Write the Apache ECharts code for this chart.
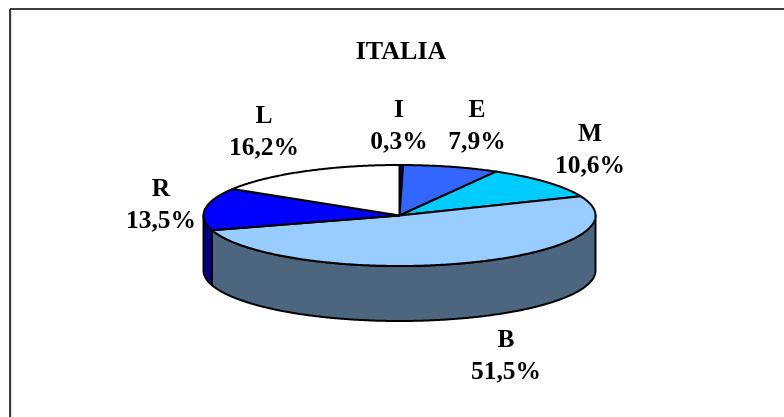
<!DOCTYPE html>
<html>
<head>
<meta charset="utf-8">
<style>html,body{margin:0;padding:0;background:#fff}#c{width:784px;height:417px}</style>
<script src="https://cdn.jsdelivr.net/npm/echarts@6/dist/echarts.min.js"></script>
</head>
<body>
<div id="c"></div>
<script>
const titleText = 'ITALIA';
const categories = ['I', 'E', 'M', 'B', 'R', 'L'];
const percentLabels = ['0,3%', '7,9%', '10,6%', '51,5%', '13,5%', '16,2%'];
const values = [0.3, 7.9, 10.6, 51.5, 13.5, 16.2];

const topColors = ['#000080', '#3366FF', '#00CCFF', '#99CCFF', '#0000FF', '#FFFFFF'];
const sideColors = ['#000040', '#1A3380', '#006680', '#4D6680', '#000080', '#808080'];

const pie = { cx: 399.5, cy: 215.5, rx: 196, ry: 50.5, depth: 55 };
const labelCenters = [[399, 126], [477, 126], [590, 150], [506, 356], [161, 205], [264, 132]];

const total = values.reduce((a, b) => a + b, 0);
function rimPoint(deg, drop) {
  const t = deg * Math.PI / 180;
  return [pie.cx + pie.rx * Math.sin(t), pie.cy - pie.ry * Math.cos(t) + drop];
}
function arc(a0, a1, drop) {
  const pts = [];
  const n = Math.max(2, Math.ceil(Math.abs(a1 - a0) * 2));
  for (let i = 0; i <= n; i++) pts.push(rimPoint(a0 + (a1 - a0) * i / n, drop));
  return pts;
}
function renderItem(params, api) {
  const i = params.dataIndex;
  let before = 0;
  for (let k = 0; k < i; k++) before += values[k];
  const a0 = before / total * 360;
  const a1 = a0 + api.value(0) / total * 360;
  const children = [];
  const lo = Math.max(a0, 90), hi = Math.min(a1, 270);
  if (hi > lo) {
    children.push({
      type: 'polygon',
      shape: { points: arc(lo, hi, 0).concat(arc(hi, lo, pie.depth)) },
      style: { fill: sideColors[i], stroke: '#000', lineWidth: 2, lineJoin: 'round' }
    });
  }
  children.push({
    type: 'polygon',
    shape: { points: [[pie.cx, pie.cy]].concat(arc(a0, a1, 0)) },
    style: { fill: topColors[i], stroke: '#000', lineWidth: 2, lineJoin: 'round' }
  });
  children.push({
    type: 'text',
    style: {
      x: labelCenters[i][0], y: labelCenters[i][1],
      text: categories[i] + '\n' + percentLabels[i],
      fill: '#000', textAlign: 'center', textVerticalAlign: 'middle',
      font: 'bold 25.5px "Liberation Serif"', lineHeight: 32
    }
  });
  return { type: 'group', children };
}

const chart = echarts.init(document.getElementById('c'), null, { renderer: 'canvas' });
chart.setOption({
  animation: false,
  backgroundColor: '#fff',
  title: {
    text: titleText, left: 401, top: 39, textAlign: 'center', padding: 0,
    textStyle: { fontFamily: 'Liberation Serif', fontWeight: 'bold', fontSize: 26, color: '#000' }
  },
  graphic: [
    { type: 'line', shape: { x1: 11, y1: 11, x2: 11, y2: 417 }, style: { stroke: '#bbb', lineWidth: 1 } },
    { type: 'line', shape: { x1: 10, y1: 9, x2: 784, y2: 9 }, style: { stroke: '#000', lineWidth: 1.5 } },
    { type: 'line', shape: { x1: 10, y1: 9, x2: 10, y2: 417 }, style: { stroke: '#000', lineWidth: 1.5 } }
  ],
  series: [{
    type: 'custom',
    coordinateSystem: 'none',
    renderItem,
    data: values.map((v, i) => ({ name: categories[i], value: [v] }))
  }]
});
</script>
</body>
</html>
